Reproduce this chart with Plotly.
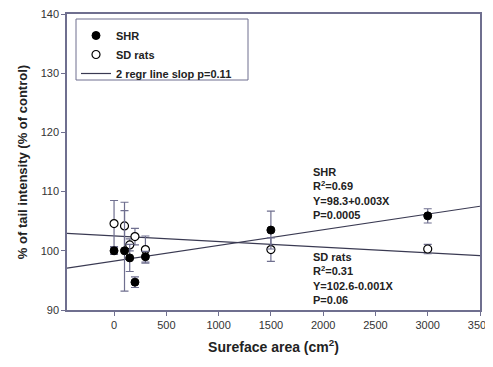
import plotly.graph_objects as go

# Data
x_vals = [0, 100, 150, 200, 300, 1500, 3000]
shr_y = [100.0, 100.0, 98.8, 94.7, 99.0, 103.5, 105.9]
shr_err = [0.6, 6.8, 2.3, 0.9, 0.9, 3.2, 1.2]
sd_y = [104.6, 104.2, 101.0, 102.4, 100.2, 100.2, 100.3]
sd_err = [3.9, 4.0, 1.0, 1.4, 2.3, 2.0, 0.8]

# regression lines (intercept, slope) as drawn
shr_fit = (98.25, 0.00265)
sd_fit = (102.52, -0.000957)
x_range = [-450, 3500]

axis_col = "#6f6f8f"
font = "Liberation Sans, Arial, sans-serif"

# page body has an 8px margin; figure sized to fill the rest of the window
OFF = 8
W, H = 493 - OFF, 367 - OFF
# plot area in window pixels
WL, WR, WT, WB = 67, 480, 14, 310
L, T = WL - OFF, WT - OFF
R = W - (WR - OFF)
B = H - (WB - OFF)
pw, ph = WR - WL, WB - WT


def px(xp):
    return (xp - WL) / pw


def py(yp):
    return 1 - (yp - WT) / ph


fig = go.Figure()

fig.add_trace(go.Scatter(
    x=x_range, y=[shr_fit[0] + shr_fit[1] * v for v in x_range],
    mode="lines", line=dict(color="#3a3a52", width=1.2),
    name="<b>2 regr line slop p=0.11</b>", legendrank=3))
fig.add_trace(go.Scatter(
    x=x_range, y=[sd_fit[0] + sd_fit[1] * v for v in x_range],
    mode="lines", line=dict(color="#3a3a52", width=1.2),
    showlegend=False))

fig.add_trace(go.Scatter(
    x=x_vals, y=sd_y, mode="markers", name="<b>SD rats</b>", legendrank=2,
    error_y=dict(type="data", array=sd_err, color=axis_col, thickness=1.2, width=4),
    marker=dict(symbol="circle", size=8, color="white", line=dict(color="black", width=1.2))))
fig.add_trace(go.Scatter(
    x=x_vals, y=shr_y, mode="markers", name="<b>SHR</b>", legendrank=1,
    error_y=dict(type="data", array=shr_err, color=axis_col, thickness=1.2, width=4),
    marker=dict(symbol="circle", size=8, color="black", line=dict(color="black", width=1))))

ann_font = dict(family=font, size=11, color="#222222")
fig.add_annotation(xref="paper", yref="paper", x=px(311), y=py(164),
                   xanchor="left", yanchor="top", align="left", showarrow=False,
                   text="<b>SHR<br>R<sup>2</sup>=0.69<br>Y=98.3+0.003X<br>P=0.0005</b>",
                   font=ann_font)
fig.add_annotation(xref="paper", yref="paper", x=px(311), y=py(249),
                   xanchor="left", yanchor="top", align="left", showarrow=False,
                   text="<b>SD rats<br>R<sup>2</sup>=0.31<br>Y=102.6-0.001X<br>P=0.06</b>",
                   font=ann_font)

# legend frame
fig.add_shape(type="rect", xref="paper", yref="paper",
              x0=px(76), x1=px(248), y0=py(80), y1=py(19),
              line=dict(color=axis_col, width=1), fillcolor="rgba(0,0,0,0)")

fig.update_layout(
    width=W, height=H,
    margin=dict(l=L, r=R, t=T, b=B),
    paper_bgcolor="white", plot_bgcolor="white",
    font=dict(family=font, size=11, color="#333333"),
    showlegend=True,
    legend=dict(x=px(76), y=py(21), xanchor="left", yanchor="top",
                bgcolor="rgba(0,0,0,0)", borderwidth=0, tracegroupgap=0,
                font=dict(family=font, size=11, color="#222222"),
                itemwidth=30),
    xaxis=dict(range=x_range, tickvals=[0, 500, 1000, 1500, 2000, 2500, 3000, 3500],
               showgrid=False, zeroline=False, showline=True, linecolor=axis_col,
               linewidth=1.5, mirror=True, ticks="outside", tickcolor=axis_col,
               ticklen=4, tickfont=dict(size=11, color="#333333"), automargin=False,
               ticklabeloverflow="allow",
               title=dict(text="<b>Sureface area (cm<sup>2</sup>)</b>",
                          font=dict(size=14, color="#222222"), standoff=12)),
    yaxis=dict(range=[90, 140], tickvals=[90, 100, 110, 120, 130, 140],
               showgrid=False, zeroline=False, showline=True, linecolor=axis_col,
               linewidth=1.5, mirror=True, ticks="outside", tickcolor=axis_col,
               ticklen=4, tickfont=dict(size=11, color="#333333"), automargin=False,
               ticklabeloverflow="allow",
               title=dict(text="<b>% of tail intensity (% of control)</b>",
                          font=dict(size=13, color="#222222"), standoff=10)),
)

fig.write_html("out.html")
